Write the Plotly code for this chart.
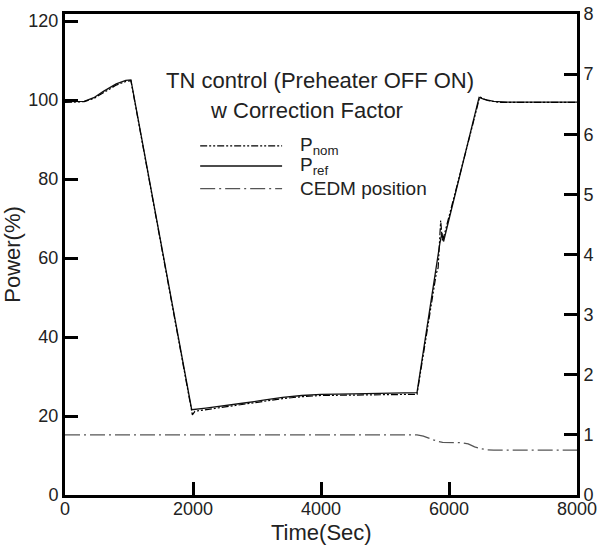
import plotly.graph_objects as go

# ---- data ----
t_nom = [0, 300, 450, 600, 800, 950, 1030, 1990, 2030, 2500, 2800, 3100, 3400, 3700, 4000, 4500,
         5000, 5500, 5800, 5830, 5870, 5895, 5920, 6100, 6300, 6480, 6600, 6800, 8000]
p_nom = [99.4, 99.6, 100.4, 101.9, 103.8, 104.7, 104.9, 20.3, 21.2, 22.3, 23.0, 23.7, 24.4, 24.9, 25.2, 25.3,
         25.4, 25.5, 56.0, 57.5, 69.5, 64.5, 65.5, 76.6, 89.3, 100.8, 99.9, 99.4, 99.4]

t_ref = [0, 300, 450, 600, 800, 950, 1030, 1980, 2200, 2500, 2800, 3100, 3400, 3700, 4000, 4500,
         5000, 5500, 5860, 5890, 5915, 6100, 6300, 6470, 6550, 6700, 6900, 8000]
p_ref = [99.6, 99.7, 100.6, 102.2, 104.1, 105.0, 105.1, 21.6, 22.0, 22.6, 23.3, 24.0, 24.7, 25.2, 25.5, 25.6,
         25.7, 25.9, 64.0, 66.3, 64.2, 76.3, 89.0, 100.7, 100.2, 99.7, 99.5, 99.5]

t_cedm = [0, 5500, 5600, 5700, 5800, 5900, 6000, 6200, 6300, 6400, 6500, 6600, 6700, 8000]
cedm = [1.0, 1.0, 0.98, 0.94, 0.90, 0.875, 0.875, 0.87, 0.85, 0.80, 0.77, 0.75, 0.745, 0.745]

series_labels = ["P<sub>nom</sub>", "P<sub>ref</sub>", "CEDM position"]
x_ticks = [0, 2000, 4000, 6000, 8000]
y_ticks = [0, 20, 40, 60, 80, 100, 120]
y2_ticks = [0, 1, 2, 3, 4, 5, 6, 7, 8]
title_lines = ["TN control (Preheater OFF ON)", "w Correction Factor"]
x_title = "Time(Sec)"
y_title = "Power(%)"

FONT = "Arial, Liberation Sans, sans-serif"
TXT = "#222222"
dash_nom = "7px,2px,2px,2px,2px,2px"
dash_cedm = "15px,4px,2px,4px"

fig = go.Figure()
fig.add_trace(go.Scatter(x=t_ref, y=p_ref, mode="lines", name=series_labels[1],
                         line=dict(color="#111111", width=1.3), showlegend=False))
fig.add_trace(go.Scatter(x=t_nom, y=p_nom, mode="lines", name=series_labels[0],
                         line=dict(color="#000000", width=1.2, dash=dash_nom), showlegend=False))
fig.add_trace(go.Scatter(x=t_cedm, y=cedm, mode="lines", name=series_labels[2], yaxis="y2",
                         line=dict(color="#555555", width=1.3, dash=dash_cedm), showlegend=False))

axis_common = dict(showgrid=False, zeroline=False, showline=True, linecolor="black", linewidth=3,
                   ticks="inside", ticklen=13, tickwidth=3, tickcolor="#000000", automargin=False,
                   tickfont=dict(family=FONT, size=18, color=TXT))

fig.update_layout(
    width=599, height=545,
    margin=dict(l=65, r=22, t=14, b=50, autoexpand=False),
    paper_bgcolor="white", plot_bgcolor="white",
    font=dict(family=FONT, color=TXT),
    xaxis=dict(range=[0, 8000], tickmode="array", tickvals=x_ticks, mirror=True,
               ticklabelstandoff=-5, **axis_common),
    yaxis=dict(range=[0, 121.8], tickmode="array", tickvals=y_ticks,
               title=dict(text=y_title, font=dict(family=FONT, size=22, color=TXT)),
               **axis_common),
    yaxis2=dict(range=[0, 8], tickmode="array", tickvals=y2_ticks, overlaying="y", side="right",
                **axis_common),
)

# x-axis title placed like the reference
fig.add_annotation(xref="paper", yref="paper", x=0.5, y=-0.077, text=x_title, showarrow=False,
                   xanchor="center", yanchor="middle", font=dict(family=FONT, size=22, color=TXT))

# Legend (drawn inside the plot like the reference)
leg_y = [0.726, 0.684, 0.637]
leg_dash = [dash_nom, "solid", dash_cedm]
leg_col = ["#000000", "#111111", "#555555"]
for i, lab in enumerate(series_labels):
    fig.add_shape(type="line", xref="paper", yref="paper", x0=0.264, x1=0.424, y0=leg_y[i], y1=leg_y[i],
                  line=dict(color=leg_col[i], width=1.3, dash=leg_dash[i]))
    fig.add_annotation(xref="paper", yref="paper", x=0.456, y=leg_y[i], text=lab, showarrow=False,
                       xanchor="left", yanchor="middle", font=dict(family=FONT, size=19, color=TXT))

fig.add_annotation(xref="paper", yref="paper", x=0.498, y=0.862, text=title_lines[0], showarrow=False,
                   xanchor="center", yanchor="middle", font=dict(family=FONT, size=22, color=TXT))
fig.add_annotation(xref="paper", yref="paper", x=0.471, y=0.799, text=title_lines[1], showarrow=False,
                   xanchor="center", yanchor="middle", font=dict(family=FONT, size=22, color=TXT))

fig.write_html("out.html")
